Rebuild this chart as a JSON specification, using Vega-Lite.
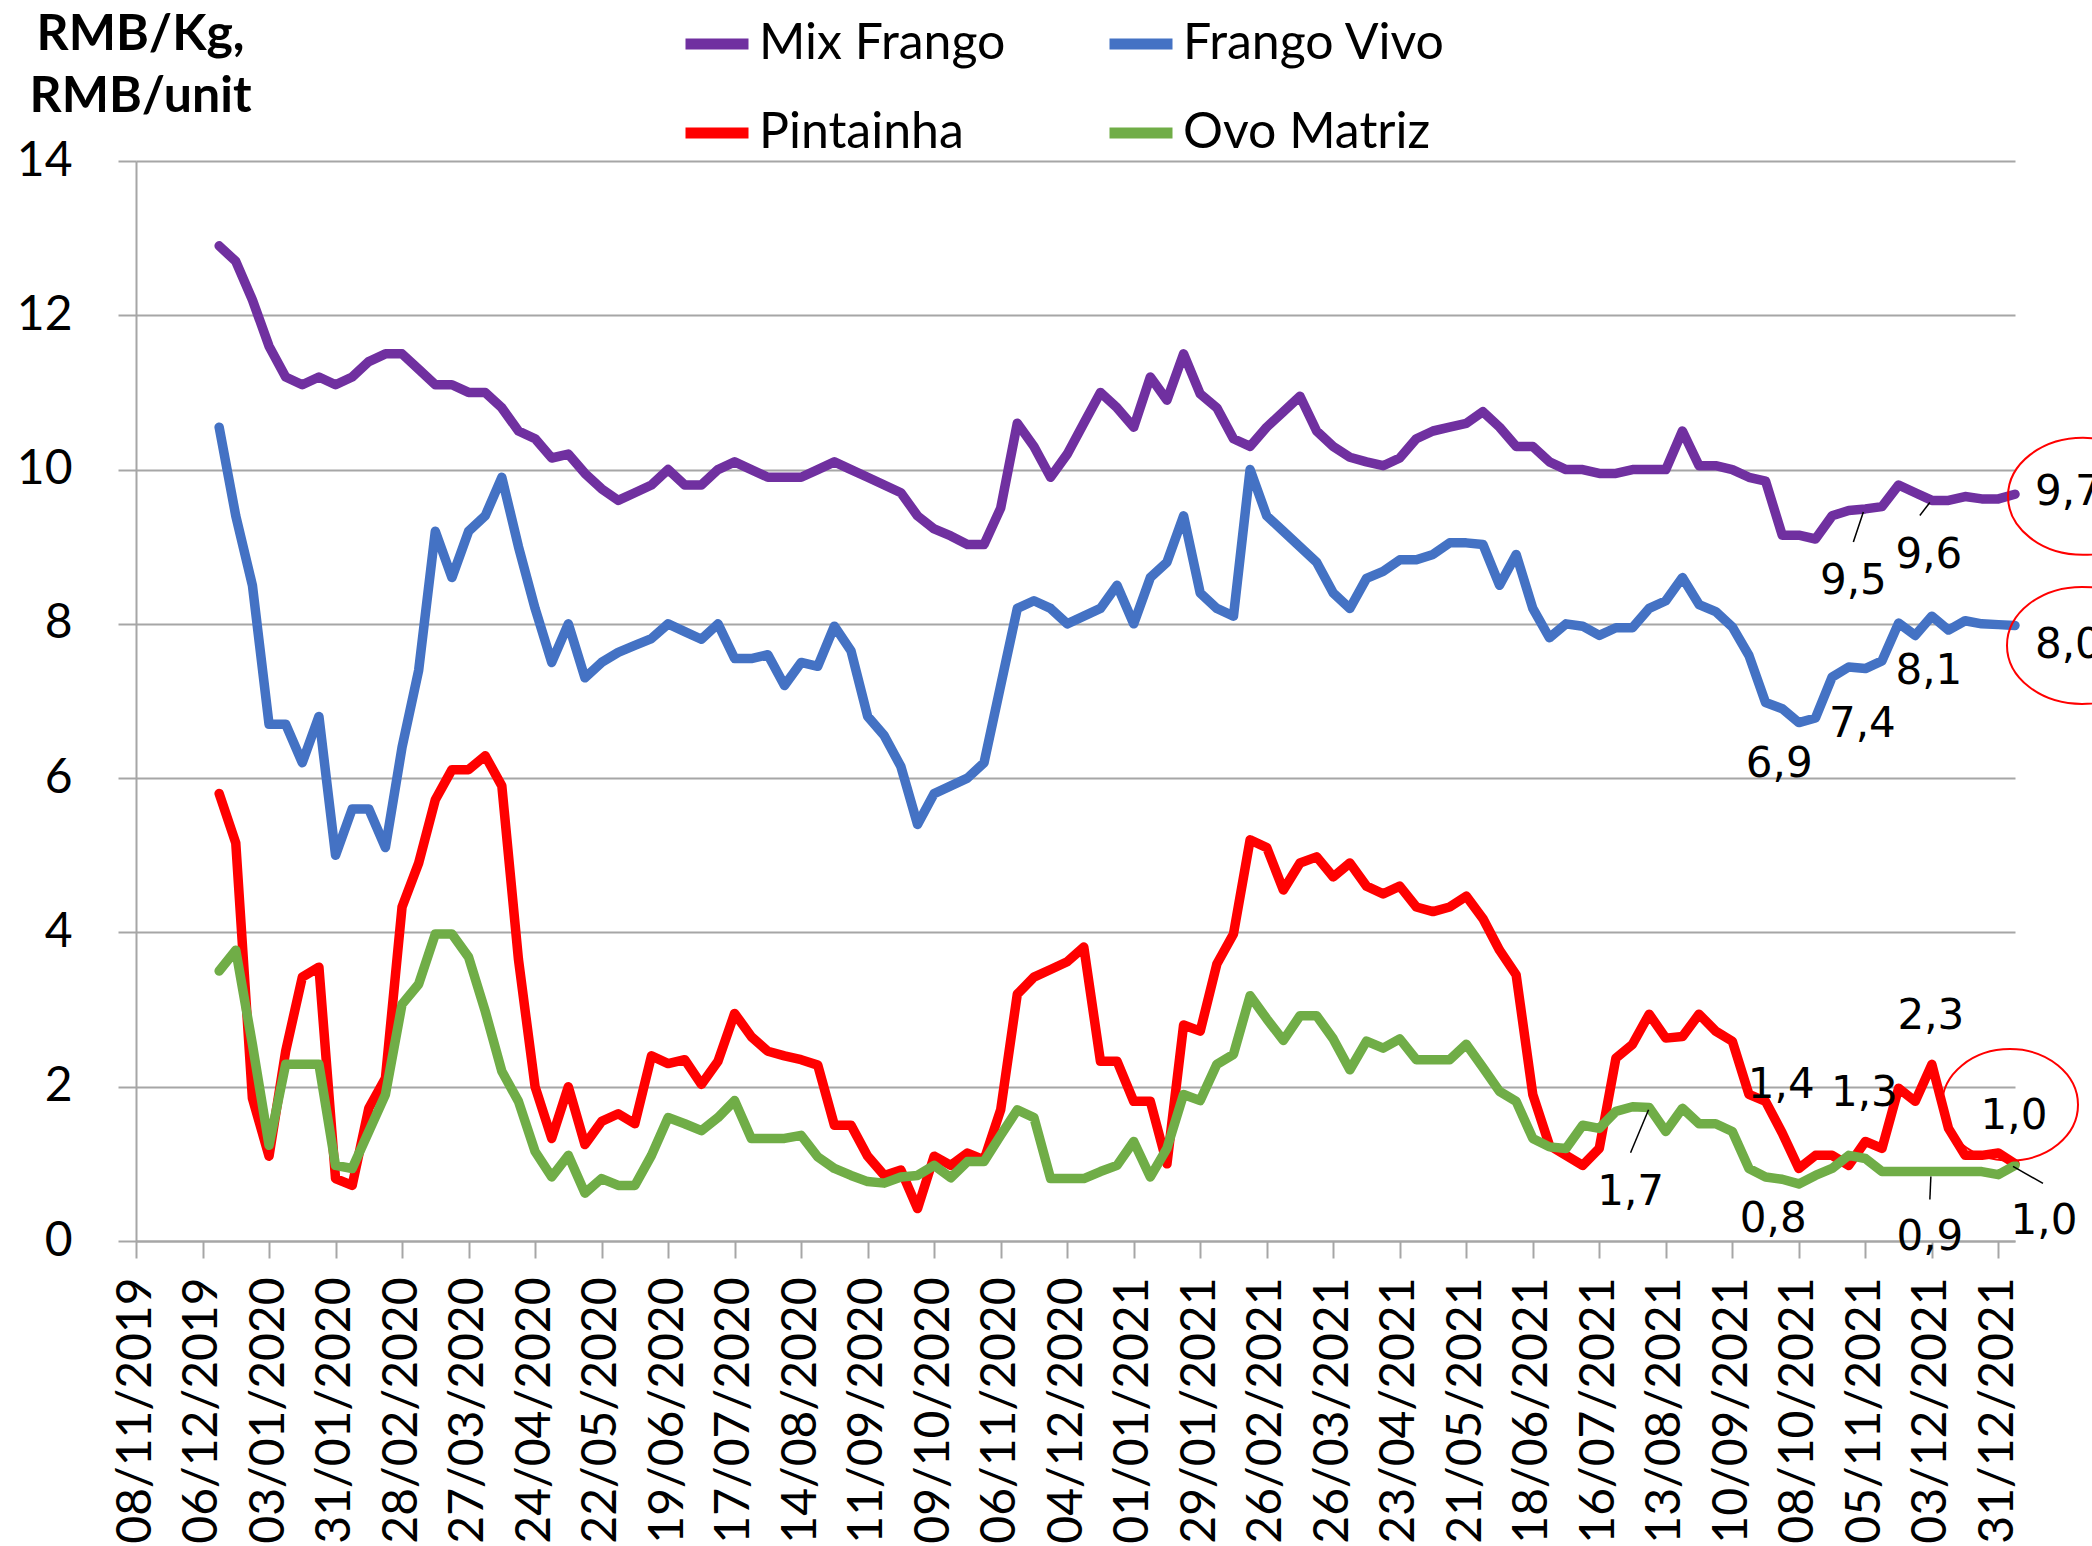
{
  "$schema": "https://vega.github.io/schema/vega-lite/v6.json",
  "autosize": {"type": "none"},
  "padding": {"left": 136, "top": 161, "right": 77, "bottom": 305},
  "width": 1879,
  "height": 1080,
  "background": "white",
  "config": {"view": {"stroke": null}, "font": "Lato"},
  "datasets": {
    "prices": [
      {"date":"2019-12-13","Mix Frango":12.9,"Frango Vivo":10.55,"Pintainha":5.8,"Ovo Matriz":3.5},
      {"date":"2019-12-20","Mix Frango":12.7,"Frango Vivo":9.4,"Pintainha":5.16,"Ovo Matriz":3.77},
      {"date":"2019-12-27","Mix Frango":12.2,"Frango Vivo":8.5,"Pintainha":1.85,"Ovo Matriz":2.55},
      {"date":"2020-01-03","Mix Frango":11.6,"Frango Vivo":6.7,"Pintainha":1.1,"Ovo Matriz":1.24},
      {"date":"2020-01-10","Mix Frango":11.2,"Frango Vivo":6.7,"Pintainha":2.46,"Ovo Matriz":2.29},
      {"date":"2020-01-17","Mix Frango":11.1,"Frango Vivo":6.2,"Pintainha":3.42,"Ovo Matriz":2.29},
      {"date":"2020-01-24","Mix Frango":11.2,"Frango Vivo":6.8,"Pintainha":3.55,"Ovo Matriz":2.29},
      {"date":"2020-01-31","Mix Frango":11.1,"Frango Vivo":5.0,"Pintainha":0.81,"Ovo Matriz":0.98},
      {"date":"2020-02-07","Mix Frango":11.2,"Frango Vivo":5.6,"Pintainha":0.72,"Ovo Matriz":0.94},
      {"date":"2020-02-14","Mix Frango":11.4,"Frango Vivo":5.6,"Pintainha":1.72,"Ovo Matriz":1.42},
      {"date":"2020-02-21","Mix Frango":11.5,"Frango Vivo":5.1,"Pintainha":2.11,"Ovo Matriz":1.9},
      {"date":"2020-02-28","Mix Frango":11.5,"Frango Vivo":6.4,"Pintainha":4.33,"Ovo Matriz":3.07},
      {"date":"2020-03-06","Mix Frango":11.3,"Frango Vivo":7.4,"Pintainha":4.9,"Ovo Matriz":3.33},
      {"date":"2020-03-13","Mix Frango":11.1,"Frango Vivo":9.2,"Pintainha":5.72,"Ovo Matriz":3.98},
      {"date":"2020-03-20","Mix Frango":11.1,"Frango Vivo":8.6,"Pintainha":6.11,"Ovo Matriz":3.98},
      {"date":"2020-03-27","Mix Frango":11.0,"Frango Vivo":9.2,"Pintainha":6.11,"Ovo Matriz":3.68},
      {"date":"2020-04-03","Mix Frango":11.0,"Frango Vivo":9.4,"Pintainha":6.29,"Ovo Matriz":2.98},
      {"date":"2020-04-10","Mix Frango":10.8,"Frango Vivo":9.9,"Pintainha":5.9,"Ovo Matriz":2.2},
      {"date":"2020-04-17","Mix Frango":10.5,"Frango Vivo":9.0,"Pintainha":3.65,"Ovo Matriz":1.81},
      {"date":"2020-04-24","Mix Frango":10.4,"Frango Vivo":8.2,"Pintainha":2.0,"Ovo Matriz":1.16},
      {"date":"2020-05-01","Mix Frango":10.15,"Frango Vivo":7.5,"Pintainha":1.33,"Ovo Matriz":0.83},
      {"date":"2020-05-08","Mix Frango":10.2,"Frango Vivo":8.0,"Pintainha":2.0,"Ovo Matriz":1.11},
      {"date":"2020-05-15","Mix Frango":9.95,"Frango Vivo":7.3,"Pintainha":1.25,"Ovo Matriz":0.62},
      {"date":"2020-05-22","Mix Frango":9.75,"Frango Vivo":7.5,"Pintainha":1.55,"Ovo Matriz":0.81},
      {"date":"2020-05-29","Mix Frango":9.6,"Frango Vivo":7.63,"Pintainha":1.65,"Ovo Matriz":0.72},
      {"date":"2020-06-05","Mix Frango":9.7,"Frango Vivo":7.72,"Pintainha":1.52,"Ovo Matriz":0.72},
      {"date":"2020-06-12","Mix Frango":9.8,"Frango Vivo":7.81,"Pintainha":2.4,"Ovo Matriz":1.11},
      {"date":"2020-06-19","Mix Frango":10.0,"Frango Vivo":8.0,"Pintainha":2.3,"Ovo Matriz":1.6},
      {"date":"2020-06-26","Mix Frango":9.8,"Frango Vivo":7.9,"Pintainha":2.35,"Ovo Matriz":1.52},
      {"date":"2020-07-03","Mix Frango":9.8,"Frango Vivo":7.8,"Pintainha":2.03,"Ovo Matriz":1.43},
      {"date":"2020-07-10","Mix Frango":10.0,"Frango Vivo":8.0,"Pintainha":2.33,"Ovo Matriz":1.6},
      {"date":"2020-07-17","Mix Frango":10.1,"Frango Vivo":7.55,"Pintainha":2.95,"Ovo Matriz":1.82},
      {"date":"2020-07-24","Mix Frango":10.0,"Frango Vivo":7.55,"Pintainha":2.65,"Ovo Matriz":1.33},
      {"date":"2020-07-31","Mix Frango":9.9,"Frango Vivo":7.6,"Pintainha":2.46,"Ovo Matriz":1.33},
      {"date":"2020-08-07","Mix Frango":9.9,"Frango Vivo":7.2,"Pintainha":2.4,"Ovo Matriz":1.33},
      {"date":"2020-08-14","Mix Frango":9.9,"Frango Vivo":7.5,"Pintainha":2.35,"Ovo Matriz":1.37},
      {"date":"2020-08-21","Mix Frango":10.0,"Frango Vivo":7.45,"Pintainha":2.28,"Ovo Matriz":1.09},
      {"date":"2020-08-28","Mix Frango":10.1,"Frango Vivo":7.97,"Pintainha":1.5,"Ovo Matriz":0.94},
      {"date":"2020-09-04","Mix Frango":10.0,"Frango Vivo":7.65,"Pintainha":1.5,"Ovo Matriz":0.85},
      {"date":"2020-09-11","Mix Frango":9.9,"Frango Vivo":6.8,"Pintainha":1.1,"Ovo Matriz":0.77},
      {"date":"2020-09-18","Mix Frango":9.8,"Frango Vivo":6.55,"Pintainha":0.85,"Ovo Matriz":0.75},
      {"date":"2020-09-25","Mix Frango":9.7,"Frango Vivo":6.15,"Pintainha":0.92,"Ovo Matriz":0.83},
      {"date":"2020-10-02","Mix Frango":9.4,"Frango Vivo":5.4,"Pintainha":0.42,"Ovo Matriz":0.85},
      {"date":"2020-10-09","Mix Frango":9.23,"Frango Vivo":5.8,"Pintainha":1.1,"Ovo Matriz":0.98},
      {"date":"2020-10-16","Mix Frango":9.14,"Frango Vivo":5.9,"Pintainha":0.98,"Ovo Matriz":0.82},
      {"date":"2020-10-23","Mix Frango":9.03,"Frango Vivo":6.0,"Pintainha":1.14,"Ovo Matriz":1.03},
      {"date":"2020-10-30","Mix Frango":9.03,"Frango Vivo":6.2,"Pintainha":1.05,"Ovo Matriz":1.03},
      {"date":"2020-11-06","Mix Frango":9.5,"Frango Vivo":7.2,"Pintainha":1.7,"Ovo Matriz":1.37},
      {"date":"2020-11-13","Mix Frango":10.6,"Frango Vivo":8.2,"Pintainha":3.2,"Ovo Matriz":1.7},
      {"date":"2020-11-20","Mix Frango":10.3,"Frango Vivo":8.3,"Pintainha":3.42,"Ovo Matriz":1.6},
      {"date":"2020-11-27","Mix Frango":9.9,"Frango Vivo":8.2,"Pintainha":3.52,"Ovo Matriz":0.81},
      {"date":"2020-12-04","Mix Frango":10.2,"Frango Vivo":8.0,"Pintainha":3.62,"Ovo Matriz":0.81},
      {"date":"2020-12-11","Mix Frango":10.6,"Frango Vivo":8.1,"Pintainha":3.81,"Ovo Matriz":0.81},
      {"date":"2020-12-18","Mix Frango":11.0,"Frango Vivo":8.2,"Pintainha":2.33,"Ovo Matriz":0.9},
      {"date":"2020-12-25","Mix Frango":10.8,"Frango Vivo":8.5,"Pintainha":2.33,"Ovo Matriz":0.98},
      {"date":"2021-01-01","Mix Frango":10.55,"Frango Vivo":8.0,"Pintainha":1.81,"Ovo Matriz":1.29},
      {"date":"2021-01-08","Mix Frango":11.2,"Frango Vivo":8.6,"Pintainha":1.81,"Ovo Matriz":0.83},
      {"date":"2021-01-15","Mix Frango":10.9,"Frango Vivo":8.8,"Pintainha":1.0,"Ovo Matriz":1.2},
      {"date":"2021-01-22","Mix Frango":11.5,"Frango Vivo":9.4,"Pintainha":2.8,"Ovo Matriz":1.9},
      {"date":"2021-01-29","Mix Frango":10.98,"Frango Vivo":8.4,"Pintainha":2.72,"Ovo Matriz":1.82},
      {"date":"2021-02-05","Mix Frango":10.8,"Frango Vivo":8.2,"Pintainha":3.59,"Ovo Matriz":2.29},
      {"date":"2021-02-12","Mix Frango":10.4,"Frango Vivo":8.1,"Pintainha":3.98,"Ovo Matriz":2.42},
      {"date":"2021-02-19","Mix Frango":10.3,"Frango Vivo":10.0,"Pintainha":5.2,"Ovo Matriz":3.18},
      {"date":"2021-02-26","Mix Frango":10.55,"Frango Vivo":9.4,"Pintainha":5.1,"Ovo Matriz":2.88},
      {"date":"2021-03-05","Mix Frango":10.75,"Frango Vivo":9.2,"Pintainha":4.55,"Ovo Matriz":2.6},
      {"date":"2021-03-12","Mix Frango":10.95,"Frango Vivo":9.0,"Pintainha":4.9,"Ovo Matriz":2.92},
      {"date":"2021-03-19","Mix Frango":10.5,"Frango Vivo":8.8,"Pintainha":4.98,"Ovo Matriz":2.92},
      {"date":"2021-03-26","Mix Frango":10.3,"Frango Vivo":8.4,"Pintainha":4.72,"Ovo Matriz":2.62},
      {"date":"2021-04-02","Mix Frango":10.16,"Frango Vivo":8.2,"Pintainha":4.9,"Ovo Matriz":2.22},
      {"date":"2021-04-09","Mix Frango":10.1,"Frango Vivo":8.59,"Pintainha":4.6,"Ovo Matriz":2.59},
      {"date":"2021-04-16","Mix Frango":10.05,"Frango Vivo":8.68,"Pintainha":4.5,"Ovo Matriz":2.5},
      {"date":"2021-04-23","Mix Frango":10.15,"Frango Vivo":8.83,"Pintainha":4.6,"Ovo Matriz":2.62},
      {"date":"2021-04-30","Mix Frango":10.4,"Frango Vivo":8.83,"Pintainha":4.33,"Ovo Matriz":2.35},
      {"date":"2021-05-07","Mix Frango":10.5,"Frango Vivo":8.9,"Pintainha":4.27,"Ovo Matriz":2.35},
      {"date":"2021-05-14","Mix Frango":10.55,"Frango Vivo":9.05,"Pintainha":4.33,"Ovo Matriz":2.35},
      {"date":"2021-05-21","Mix Frango":10.6,"Frango Vivo":9.05,"Pintainha":4.47,"Ovo Matriz":2.55},
      {"date":"2021-05-28","Mix Frango":10.75,"Frango Vivo":9.03,"Pintainha":4.18,"Ovo Matriz":2.25},
      {"date":"2021-06-04","Mix Frango":10.55,"Frango Vivo":8.5,"Pintainha":3.77,"Ovo Matriz":1.94},
      {"date":"2021-06-11","Mix Frango":10.3,"Frango Vivo":8.9,"Pintainha":3.45,"Ovo Matriz":1.81},
      {"date":"2021-06-18","Mix Frango":10.3,"Frango Vivo":8.2,"Pintainha":1.9,"Ovo Matriz":1.33},
      {"date":"2021-06-25","Mix Frango":10.1,"Frango Vivo":7.82,"Pintainha":1.24,"Ovo Matriz":1.22},
      {"date":"2021-07-02","Mix Frango":10.0,"Frango Vivo":8.0,"Pintainha":1.11,"Ovo Matriz":1.2},
      {"date":"2021-07-09","Mix Frango":10.0,"Frango Vivo":7.97,"Pintainha":0.98,"Ovo Matriz":1.5},
      {"date":"2021-07-16","Mix Frango":9.95,"Frango Vivo":7.85,"Pintainha":1.2,"Ovo Matriz":1.46},
      {"date":"2021-07-23","Mix Frango":9.95,"Frango Vivo":7.95,"Pintainha":2.37,"Ovo Matriz":1.68},
      {"date":"2021-07-30","Mix Frango":10.0,"Frango Vivo":7.95,"Pintainha":2.55,"Ovo Matriz":1.74},
      {"date":"2021-08-06","Mix Frango":10.0,"Frango Vivo":8.2,"Pintainha":2.94,"Ovo Matriz":1.73},
      {"date":"2021-08-13","Mix Frango":10.0,"Frango Vivo":8.3,"Pintainha":2.63,"Ovo Matriz":1.42},
      {"date":"2021-08-20","Mix Frango":10.5,"Frango Vivo":8.6,"Pintainha":2.65,"Ovo Matriz":1.72},
      {"date":"2021-08-27","Mix Frango":10.05,"Frango Vivo":8.25,"Pintainha":2.94,"Ovo Matriz":1.52},
      {"date":"2021-09-03","Mix Frango":10.05,"Frango Vivo":8.16,"Pintainha":2.72,"Ovo Matriz":1.52},
      {"date":"2021-09-10","Mix Frango":10.0,"Frango Vivo":7.96,"Pintainha":2.59,"Ovo Matriz":1.42},
      {"date":"2021-09-17","Mix Frango":9.9,"Frango Vivo":7.59,"Pintainha":1.9,"Ovo Matriz":0.94},
      {"date":"2021-09-24","Mix Frango":9.85,"Frango Vivo":6.98,"Pintainha":1.81,"Ovo Matriz":0.83},
      {"date":"2021-10-01","Mix Frango":9.15,"Frango Vivo":6.9,"Pintainha":1.4,"Ovo Matriz":0.8},
      {"date":"2021-10-08","Mix Frango":9.15,"Frango Vivo":6.72,"Pintainha":0.94,"Ovo Matriz":0.74},
      {"date":"2021-10-15","Mix Frango":9.1,"Frango Vivo":6.78,"Pintainha":1.11,"Ovo Matriz":0.85},
      {"date":"2021-10-22","Mix Frango":9.4,"Frango Vivo":7.31,"Pintainha":1.11,"Ovo Matriz":0.94},
      {"date":"2021-10-29","Mix Frango":9.47,"Frango Vivo":7.44,"Pintainha":0.98,"Ovo Matriz":1.11},
      {"date":"2021-11-05","Mix Frango":9.49,"Frango Vivo":7.42,"Pintainha":1.29,"Ovo Matriz":1.07},
      {"date":"2021-11-12","Mix Frango":9.52,"Frango Vivo":7.52,"Pintainha":1.2,"Ovo Matriz":0.9},
      {"date":"2021-11-19","Mix Frango":9.8,"Frango Vivo":8.01,"Pintainha":1.98,"Ovo Matriz":0.9},
      {"date":"2021-11-26","Mix Frango":9.7,"Frango Vivo":7.85,"Pintainha":1.81,"Ovo Matriz":0.9},
      {"date":"2021-12-03","Mix Frango":9.6,"Frango Vivo":8.1,"Pintainha":2.29,"Ovo Matriz":0.9},
      {"date":"2021-12-10","Mix Frango":9.6,"Frango Vivo":7.92,"Pintainha":1.46,"Ovo Matriz":0.9},
      {"date":"2021-12-17","Mix Frango":9.65,"Frango Vivo":8.04,"Pintainha":1.11,"Ovo Matriz":0.9},
      {"date":"2021-12-24","Mix Frango":9.62,"Frango Vivo":8.0,"Pintainha":1.11,"Ovo Matriz":0.9},
      {"date":"2021-12-31","Mix Frango":9.62,"Frango Vivo":7.99,"Pintainha":1.14,"Ovo Matriz":0.86},
      {"date":"2022-01-07","Mix Frango":9.68,"Frango Vivo":7.98,"Pintainha":1.0,"Ovo Matriz":0.98}
    ],
    "labels": [
      {"series":"Mix Frango","date":"2021-11-05","value":9.49,"label":"9,5"},
      {"series":"Mix Frango","date":"2021-12-03","value":9.6,"label":"9,6"},
      {"series":"Mix Frango","date":"2022-01-07","value":9.68,"label":"9,7"},
      {"series":"Frango Vivo","date":"2021-10-01","value":6.9,"label":"6,9"},
      {"series":"Frango Vivo","date":"2021-11-05","value":7.42,"label":"7,4"},
      {"series":"Frango Vivo","date":"2021-12-03","value":8.1,"label":"8,1"},
      {"series":"Frango Vivo","date":"2022-01-07","value":7.98,"label":"8,0"},
      {"series":"Pintainha","date":"2021-10-01","value":1.4,"label":"1,4"},
      {"series":"Pintainha","date":"2021-11-05","value":1.29,"label":"1,3"},
      {"series":"Pintainha","date":"2021-12-03","value":2.29,"label":"2,3"},
      {"series":"Pintainha","date":"2022-01-07","value":1.0,"label":"1,0"},
      {"series":"Ovo Matriz","date":"2021-07-30","value":1.74,"label":"1,7"},
      {"series":"Ovo Matriz","date":"2021-10-01","value":0.8,"label":"0,8"},
      {"series":"Ovo Matriz","date":"2021-12-03","value":0.9,"label":"0,9"},
      {"series":"Ovo Matriz","date":"2022-01-07","value":0.98,"label":"1,0"}
    ]
  },
  "encoding": {
    "x": {
      "field": "date",
      "type": "temporal",
      "scale": {
        "type": "utc",
        "domain": [
          {"year": 2019, "month": 11, "date": 8, "utc": true},
          {"year": 2022, "month": 1, "date": 7, "utc": true}
        ]
      },
      "axis": {
        "values": [
          {"year":2019,"month":11,"date":8,"utc":true},
          {"year":2019,"month":12,"date":6,"utc":true},
          {"year":2020,"month":1,"date":3,"utc":true},
          {"year":2020,"month":1,"date":31,"utc":true},
          {"year":2020,"month":2,"date":28,"utc":true},
          {"year":2020,"month":3,"date":27,"utc":true},
          {"year":2020,"month":4,"date":24,"utc":true},
          {"year":2020,"month":5,"date":22,"utc":true},
          {"year":2020,"month":6,"date":19,"utc":true},
          {"year":2020,"month":7,"date":17,"utc":true},
          {"year":2020,"month":8,"date":14,"utc":true},
          {"year":2020,"month":9,"date":11,"utc":true},
          {"year":2020,"month":10,"date":9,"utc":true},
          {"year":2020,"month":11,"date":6,"utc":true},
          {"year":2020,"month":12,"date":4,"utc":true},
          {"year":2021,"month":1,"date":1,"utc":true},
          {"year":2021,"month":1,"date":29,"utc":true},
          {"year":2021,"month":2,"date":26,"utc":true},
          {"year":2021,"month":3,"date":26,"utc":true},
          {"year":2021,"month":4,"date":23,"utc":true},
          {"year":2021,"month":5,"date":21,"utc":true},
          {"year":2021,"month":6,"date":18,"utc":true},
          {"year":2021,"month":7,"date":16,"utc":true},
          {"year":2021,"month":8,"date":13,"utc":true},
          {"year":2021,"month":9,"date":10,"utc":true},
          {"year":2021,"month":10,"date":8,"utc":true},
          {"year":2021,"month":11,"date":5,"utc":true},
          {"year":2021,"month":12,"date":3,"utc":true},
          {"year":2021,"month":12,"date":31,"utc":true}
        ],
        "format": "%d/%m/%Y",
        "labelAngle": -90,
        "labelFont": "Lato",
        "labelFontSize": 48,
        "labelColor": "#000000",
        "labelPadding": 19,
        "labelLimit": 500,
        "labelOverlap": false,
        "labelFlush": false,
        "labelBound": false,
        "tickSize": 17,
        "tickColor": "#A6A6A6",
        "tickWidth": 2,
        "domainColor": "#A6A6A6",
        "domainWidth": 2,
        "grid": false,
        "title": null
      }
    },
    "y": {
      "field": "value",
      "type": "quantitative",
      "scale": {"domain": [0, 14], "nice": false, "zero": true},
      "axis": {
        "values": [0, 2, 4, 6, 8, 10, 12, 14],
        "labelFont": "Lato",
        "labelFontSize": 48,
        "labelColor": "#000000",
        "labelPadding": 46,
        "labelFlush": false,
        "tickSize": 18,
        "tickColor": "#A6A6A6",
        "tickWidth": 2,
        "gridColor": "#A6A6A6",
        "gridWidth": 2,
        "domainColor": "#A6A6A6",
        "domainWidth": 2,
        "title": ["RMB/Kg,", "RMB/unit"],
        "titleAngle": 0,
        "titleX": 4,
        "titleY": -112,
        "titleAlign": "center",
        "titleBaseline": "alphabetic",
        "titleFont": "Lato",
        "titleFontSize": 50,
        "titleFontWeight": "bold",
        "titleLineHeight": 62,
        "titleColor": "#000000"
      }
    }
  },
  "layer": [
    {
      "data": {"name": "prices"},
      "transform": [
        {"fold": ["Mix Frango", "Frango Vivo", "Pintainha", "Ovo Matriz"], "as": ["series", "value"]}
      ],
      "mark": {"type": "line", "strokeWidth": 9.5, "strokeJoin": "round", "strokeCap": "round"},
      "encoding": {
        "color": {
          "field": "series",
          "type": "nominal",
          "scale": {
            "domain": ["Mix Frango", "Frango Vivo", "Pintainha", "Ovo Matriz"],
            "range": ["#7030A0", "#4472C4", "#FF0000", "#70AD47"]
          },
          "legend": {
            "orient": "none",
            "legendX": 544,
            "legendY": -154,
            "direction": "horizontal",
            "columns": 2,
            "title": null,
            "symbolType": "stroke",
            "symbolSize": 3969,
            "symbolStrokeWidth": 11,
            "labelFont": "Lato",
            "labelFontSize": 50,
            "labelColor": "#000000",
            "labelOffset": 5,
            "labelLimit": 600,
            "columnPadding": 81,
            "rowPadding": 27,
            "padding": 0
          }
        }
      }
    },
    {
      "data": {"name": "labels"},
      "transform": [{"filter": "indexof(['9,6','6,9','7,4','8,1'], datum.label) >= 0"}],
      "mark": {"type": "text", "font": "DejaVu Sans", "fontSize": 42, "color": "#000000", "align": "center", "baseline": "middle", "dx": -3, "dy": 55},
      "encoding": {"text": {"field": "label"}}
    },
    {
      "data": {"name": "labels"},
      "transform": [{"filter": "datum.series == 'Pintainha'"}],
      "mark": {"type": "text", "font": "DejaVu Sans", "fontSize": 42, "color": "#000000", "align": "center", "baseline": "middle", "dx": -1, "dy": -48},
      "encoding": {"text": {"field": "label"}}
    },
    {
      "data": {"name": "labels"},
      "transform": [{"filter": "datum.label == '9,5'"}],
      "mark": {"type": "text", "font": "DejaVu Sans", "fontSize": 42, "color": "#000000", "align": "center", "baseline": "middle", "dx": -12, "dy": 72},
      "encoding": {"text": {"field": "label"}}
    },
    {
      "data": {"name": "labels"},
      "transform": [{"filter": "datum.label == '9,7'"}],
      "mark": {"type": "text", "font": "DejaVu Sans", "fontSize": 42, "color": "#000000", "align": "left", "baseline": "middle", "dx": 20, "dy": -2},
      "encoding": {"text": {"field": "label"}}
    },
    {
      "data": {"name": "labels"},
      "transform": [{"filter": "datum.label == '8,0'"}],
      "mark": {"type": "text", "font": "DejaVu Sans", "fontSize": 42, "color": "#000000", "align": "left", "baseline": "middle", "dx": 20, "dy": 20},
      "encoding": {"text": {"field": "label"}}
    },
    {
      "data": {"name": "labels"},
      "transform": [{"filter": "datum.label == '1,7'"}],
      "mark": {"type": "text", "font": "DejaVu Sans", "fontSize": 42, "color": "#000000", "align": "center", "baseline": "middle", "dx": -2, "dy": 85},
      "encoding": {"text": {"field": "label"}}
    },
    {
      "data": {"name": "labels"},
      "transform": [{"filter": "datum.label == '0,8'"}],
      "mark": {"type": "text", "font": "DejaVu Sans", "fontSize": 42, "color": "#000000", "align": "center", "baseline": "middle", "dx": -9, "dy": 40},
      "encoding": {"text": {"field": "label"}}
    },
    {
      "data": {"name": "labels"},
      "transform": [{"filter": "datum.label == '0,9'"}],
      "mark": {"type": "text", "font": "DejaVu Sans", "fontSize": 42, "color": "#000000", "align": "center", "baseline": "middle", "dx": -2, "dy": 65},
      "encoding": {"text": {"field": "label"}}
    },
    {
      "data": {"name": "labels"},
      "transform": [{"filter": "datum.series == 'Ovo Matriz' && datum.label == '1,0'"}],
      "mark": {"type": "text", "font": "DejaVu Sans", "fontSize": 42, "color": "#000000", "align": "center", "baseline": "middle", "dx": 29, "dy": 56},
      "encoding": {"text": {"field": "label"}}
    },
    {
      "data": {"name": "labels"},
      "transform": [{"filter": "datum.label == '9,5'"}],
      "mark": {"type": "rule", "color": "#000000", "strokeWidth": 1.5, "xOffset": -2, "yOffset": 3, "x2Offset": -12, "y2Offset": 33},
      "encoding": {"x2": {"field": "date"}, "y2": {"field": "value"}}
    },
    {
      "data": {"name": "labels"},
      "transform": [{"filter": "datum.label == '9,6'"}],
      "mark": {"type": "rule", "color": "#000000", "strokeWidth": 1.5, "xOffset": -2, "yOffset": 2, "x2Offset": -12, "y2Offset": 15},
      "encoding": {"x2": {"field": "date"}, "y2": {"field": "value"}}
    },
    {
      "data": {"name": "labels"},
      "transform": [{"filter": "datum.label == '1,7'"}],
      "mark": {"type": "rule", "color": "#000000", "strokeWidth": 1.5, "xOffset": 16, "yOffset": 3, "x2Offset": -2, "y2Offset": 46},
      "encoding": {"x2": {"field": "date"}, "y2": {"field": "value"}}
    },
    {
      "data": {"name": "labels"},
      "transform": [{"filter": "datum.label == '0,9'"}],
      "mark": {"type": "rule", "color": "#000000", "strokeWidth": 1.5, "xOffset": -1, "yOffset": 5, "x2Offset": -2, "y2Offset": 28},
      "encoding": {"x2": {"field": "date"}, "y2": {"field": "value"}}
    },
    {
      "data": {"name": "labels"},
      "transform": [{"filter": "datum.series == 'Ovo Matriz' && datum.label == '1,0'"}],
      "mark": {"type": "rule", "color": "#000000", "strokeWidth": 1.5, "xOffset": -2, "yOffset": 1, "x2Offset": 28, "y2Offset": 18},
      "encoding": {"x2": {"field": "date"}, "y2": {"field": "value"}}
    },
    {
      "data": {"name": "labels"},
      "transform": [{"filter": "datum.label == '9,7'"}],
      "mark": {"type": "point", "shape": "M -1 0 A 1 0.78 0 1 1 1 0 A 1 0.78 0 1 1 -1 0 Z", "filled": false, "color": "#FF0000", "strokeWidth": 2, "opacity": 1, "size": 22500, "xOffset": 68, "yOffset": 2},
      "encoding": {}
    },
    {
      "data": {"name": "labels"},
      "transform": [{"filter": "datum.label == '8,0'"}],
      "mark": {"type": "point", "shape": "M -1 0 A 1 0.78 0 1 1 1 0 A 1 0.78 0 1 1 -1 0 Z", "filled": false, "color": "#FF0000", "strokeWidth": 2, "opacity": 1, "size": 22500, "xOffset": 67, "yOffset": 20},
      "encoding": {}
    },
    {
      "data": {"name": "labels"},
      "transform": [{"filter": "datum.series == 'Pintainha' && datum.label == '1,0'"}],
      "mark": {"type": "point", "shape": "M -1 0 A 1 0.82 0 1 1 1 0 A 1 0.82 0 1 1 -1 0 Z", "filled": false, "color": "#FF0000", "strokeWidth": 2, "opacity": 1, "size": 18496, "xOffset": -5, "yOffset": -59},
      "encoding": {}
    }
  ]
}
